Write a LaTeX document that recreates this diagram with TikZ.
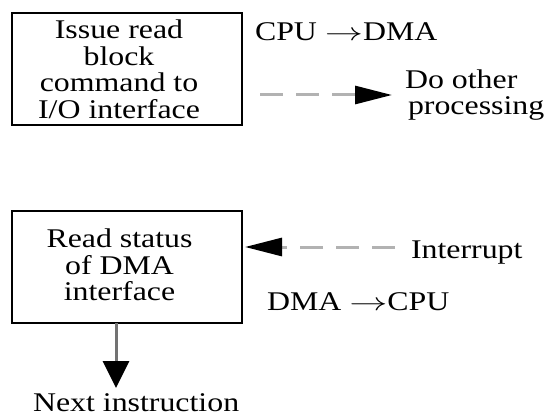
\documentclass[tikz,border=0pt]{standalone}
\usepackage{fontspec}
\setmainfont{Liberation Serif}
\usetikzlibrary{arrows.meta}
\newcommand{\wide}[1]{\scalebox{1.18}[1]{#1}}
\newcommand{\longarr}{\scalebox{1.3}[1]{$\rightarrow$}}
\begin{document}
\begin{tikzpicture}[x=1pt,y=-1pt,
  box/.style={draw=black,line width=2pt,minimum width=230pt,minimum height=112pt,inner sep=0pt,outer sep=0pt},
  txt/.style={inner sep=0pt,outer sep=0pt,font=\fontsize{27}{26}\selectfont},
  dashcon/.style={draw=black!30,line width=3pt,dash pattern=on 23pt off 13pt,-{Triangle[length=37pt,width=18pt,color=black]}},
  solidcon/.style={draw=black!55,line width=3pt,-{Triangle[length=27pt,width=26pt,color=black]}}]
\useasboundingbox (0,0) rectangle (547,412);
% boxes
\node[box] (b1) at (127,69) {};
\node[box] (b2) at (127,267) {};
% box texts
\node[txt] (t1) at (119,73.3) {\wide{\fontsize{27}{26}\selectfont\begin{tabular}{@{}c@{}}Issue read\\block\\command to\\I/O interface\end{tabular}}};
\node[txt] (t2) at (119.5,268.6) {\wide{\fontsize{27}{24.5}\selectfont\begin{tabular}{@{}c@{}}Read status\\of DMA\\interface\end{tabular}}};
% labels
\node[txt,anchor=base west] (cd) at (255,41) {\wide{CPU \longarr DMA}};
\node[txt,anchor=base west] (do) at (405,89) {\wide{Do other}};
\node[txt,anchor=base west] (pr) at (408,115) {\wide{processing}};
\node[txt,anchor=base west] (ir) at (411,258) {\wide{Interrupt}};
\node[txt,anchor=base west] (dc) at (267,310) {\wide{DMA \longarr CPU}};
\node[txt,anchor=base west] (nx) at (33,411) {\wide{Next instruction}};
% connector end points
\coordinate (a1s) at (260,95);
\coordinate (a1e) at (392,95);
\coordinate (a2s) at (395,247);
\coordinate (a2e) at (245,247);
\coordinate (a3e) at (116,388);
% connectors
\draw[dashcon] (a1s) -- (a1e);
\draw[dashcon] (a2s) -- (a2e);
\draw[solidcon] ([xshift=-11pt]b2.south) -- (a3e);
\end{tikzpicture}
\end{document}
